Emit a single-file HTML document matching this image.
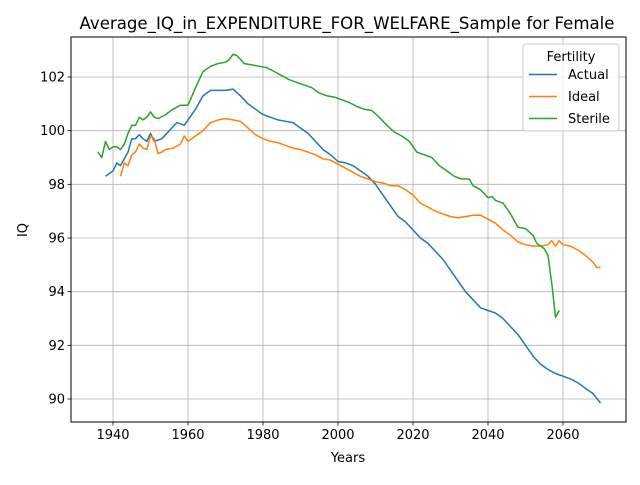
<!DOCTYPE html>
<html><head><meta charset="utf-8"><style>
body{margin:0;background:#fff}
svg text{font-family:"DejaVu Sans","Liberation Sans",sans-serif;fill:#000}
</style></head><body>
<svg id="chart" width="640" height="480" xmlns="http://www.w3.org/2000/svg">
<rect width="640" height="480" fill="#fff"/>
<text x="347" y="29" font-size="16.6" text-anchor="middle">Average_IQ_in_EXPENDITURE_FOR_WELFARE_Sample for Female</text>
<g id="grid"></g><g id="ticks"></g><g id="series"></g>
<rect x="71" y="37" width="555" height="385" fill="none" stroke="#000" stroke-width="1"/>
<text x="348" y="462" font-size="13" text-anchor="middle">Years</text>
<text x="27" y="230" font-size="13" text-anchor="middle" transform="rotate(-90 27 230)">IQ</text>
<g id="legend">
<rect x="523" y="44" width="96" height="87" rx="3" fill="#fff" fill-opacity="0.8" stroke="#ccc"/>
<text x="571" y="61" font-size="13" text-anchor="middle">Fertility</text>
</g>
</svg>
<script>
const xTicks=[1940,1960,1980,2000,2020,2040,2060];
const yTicks=[90,92,94,96,98,100,102];
const seriesNames=["Actual","Ideal","Sterile"];
const seriesColors=["#1f77b4","#ff7f0e","#2ca02c"];
const actualYears=[1938,1940,1941,1942,1944,1945,1946,1947,1948,1949,1950,1951,1953,1955,1957,1959,1960,1962,1964,1966,1968,1970,1972,1974,1976,1978,1980,1982,1984,1986,1988,1990,1992,1994,1996,1998,2000,2002,2004,2006,2008,2010,2012,2014,2016,2018,2020,2022,2024,2026,2028,2030,2032,2034,2036,2038,2040,2042,2044,2046,2048,2050,2052,2054,2056,2058,2060,2062,2064,2066,2068,2070];
const actualValues=[98.3,98.5,98.8,98.7,99.2,99.7,99.7,99.85,99.7,99.6,99.9,99.6,99.7,100.0,100.3,100.2,100.4,100.8,101.3,101.5,101.5,101.5,101.55,101.3,101.0,100.8,100.6,100.5,100.4,100.35,100.3,100.1,99.9,99.6,99.3,99.1,98.85,98.8,98.7,98.5,98.3,98.0,97.6,97.2,96.8,96.6,96.3,96.0,95.8,95.5,95.2,94.8,94.4,94.0,93.7,93.4,93.3,93.2,93.0,92.7,92.4,92.0,91.6,91.3,91.1,90.95,90.85,90.75,90.6,90.4,90.2,89.85];
const idealYears=[1942,1943,1944,1945,1946,1947,1948,1949,1950,1951,1952,1953,1954,1956,1958,1959,1960,1962,1964,1966,1968,1970,1972,1974,1976,1978,1980,1982,1984,1986,1988,1990,1992,1994,1996,1998,2000,2002,2004,2006,2008,2010,2012,2014,2016,2018,2020,2022,2024,2026,2028,2030,2032,2034,2036,2038,2040,2042,2044,2046,2048,2050,2052,2054,2056,2057,2058,2059,2060,2062,2064,2066,2068,2069,2070];
const idealValues=[98.3,98.8,98.7,99.1,99.2,99.5,99.35,99.3,99.8,99.7,99.15,99.2,99.3,99.35,99.5,99.8,99.6,99.8,100.0,100.3,100.4,100.45,100.4,100.35,100.1,99.85,99.7,99.6,99.55,99.45,99.35,99.3,99.2,99.1,98.95,98.9,98.75,98.6,98.45,98.3,98.2,98.1,98.05,97.95,97.95,97.8,97.6,97.3,97.15,97.0,96.9,96.8,96.75,96.8,96.85,96.85,96.7,96.55,96.3,96.1,95.85,95.75,95.7,95.7,95.75,95.9,95.7,95.9,95.75,95.7,95.55,95.35,95.1,94.9,94.9];
const sterileYears=[1936,1937,1938,1939,1940,1941,1942,1943,1944,1945,1946,1947,1948,1949,1950,1951,1952,1954,1956,1958,1960,1962,1964,1966,1968,1970,1971,1972,1973,1975,1977,1979,1981,1983,1985,1987,1989,1991,1993,1995,1997,1999,2001,2003,2005,2007,2009,2011,2013,2015,2017,2019,2021,2023,2025,2027,2029,2031,2033,2035,2036,2038,2040,2041,2042,2044,2046,2048,2050,2052,2053,2055,2056,2057,2058,2059];
const sterileValues=[99.2,99.0,99.6,99.3,99.4,99.4,99.3,99.5,99.9,100.2,100.2,100.5,100.4,100.5,100.7,100.5,100.45,100.6,100.8,100.95,100.95,101.6,102.2,102.4,102.5,102.55,102.65,102.85,102.8,102.5,102.45,102.4,102.35,102.2,102.05,101.9,101.8,101.7,101.6,101.4,101.3,101.25,101.15,101.05,100.9,100.8,100.75,100.5,100.2,99.95,99.8,99.6,99.2,99.1,99.0,98.7,98.5,98.3,98.2,98.2,97.95,97.8,97.5,97.55,97.4,97.3,96.9,96.4,96.35,96.1,95.8,95.6,95.35,94.3,93.05,93.3];

const NS="http://www.w3.org/2000/svg";
const X0=71,X1=626,Y0=37,Y1=422;
function xs(v){return 113+(v-1940)*3.75;}
function ys(v){return 399-(v-90)*26.833;}
function mk(tag,attrs,parent){const e=document.createElementNS(NS,tag);for(const k in attrs)e.setAttribute(k,attrs[k]);parent.appendChild(e);return e;}
const grid=document.getElementById('grid'),ticks=document.getElementById('ticks'),ser=document.getElementById('series'),leg=document.getElementById('legend');
xTicks.forEach(t=>{const x=xs(t);
 const g=mk('line',{x1:x,x2:x,y1:Y0,y2:Y1,stroke:'#b0b0b0','stroke-width':0.8},grid);
 
 
 mk('line',{x1:x,x2:x,y1:Y1,y2:Y1+3.5,stroke:'#000','stroke-width':0.8},ticks);
 const tx=mk('text',{x:x,y:Y1+17,'font-size':13,'text-anchor':'middle'},ticks);tx.textContent=t;
 
 
});
yTicks.forEach(t=>{const y=ys(t);
 const g=mk('line',{x1:X0,x2:X1,y1:y,y2:y,stroke:'#b0b0b0','stroke-width':0.8},grid);
 
 
 mk('line',{x1:X0-3.5,x2:X0,y1:y,y2:y,stroke:'#000','stroke-width':0.8},ticks);
 const tx=mk('text',{x:X0-6,y:y+4.5,'font-size':13,'text-anchor':'end'},ticks);tx.textContent=t;
 
 
});
const allYears=[actualYears,idealYears,sterileYears],allVals=[actualValues,idealValues,sterileValues];
seriesNames.forEach((n,i)=>{
 const pts=allYears[i].map((yr,j)=>xs(yr).toFixed(1)+','+ys(allVals[i][j]).toFixed(1)).join(' ');
 const p=mk('polyline',{points:pts,fill:'none',stroke:seriesColors[i],'stroke-width':1.5,'stroke-linejoin':'round'},ser);
 
 
 const ly=79+i*22;
 const l=mk('line',{x1:529,x2:557,y1:ly-4.5,y2:ly-4.5,stroke:seriesColors[i],'stroke-width':1.5},leg);
 
 
 const t=mk('text',{x:568,y:ly,'font-size':13},leg);t.textContent=n;
 
 
});
</script>
</body></html>
